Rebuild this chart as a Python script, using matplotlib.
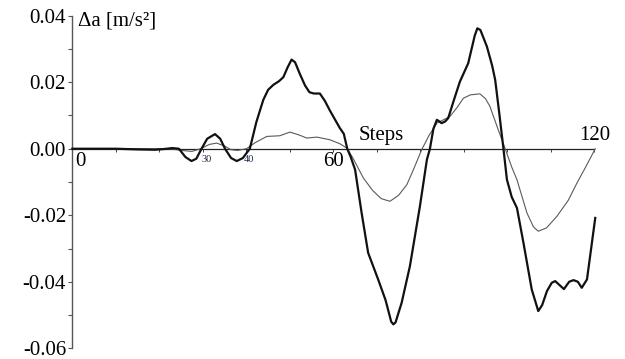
import matplotlib
matplotlib.use("Agg")
import matplotlib.pyplot as plt
from matplotlib.ticker import MultipleLocator, FuncFormatter

# Acceleration difference per step (thick trace)
steps_a = [0, 10, 15, 19, 21, 23, 24.5, 26, 27.4, 28.5, 29.7, 31, 32.8, 34, 35.1,
           36.5, 37.8, 39.2, 40.8, 42.3, 43.9, 45, 46.2, 47.5, 48.5, 49.5, 50.4,
           51.2, 52.3, 53.5, 54.5, 55.5, 56.9, 58, 59.2, 60.5, 61.5, 62.4, 63.2,
           64, 65, 66.5, 68, 70.3, 72, 73.3, 73.8, 74.3, 75.7, 77.6, 79.9, 81.5,
           82.2, 83, 83.8, 84.9, 85.7, 86.4, 87.8, 89.1, 91, 92.5, 93.1, 93.8,
           95.3, 96.5, 97.2, 98.2, 99.1, 99.9, 101, 102.2, 103.7, 105.6, 107.1,
           108, 109.1, 110.2, 111, 112, 113, 114.2, 115.2, 116.2, 117.1, 118.3,
           120.2]
delta_a = [0, 0, -0.0002, -0.0003, -0.0001, 0.0002, 0.0, -0.0025, -0.0037,
           -0.0030, 0.0, 0.0030, 0.0044, 0.0030, 0.0, -0.0028, -0.0037, -0.0028,
           0.0, 0.0080, 0.0147, 0.0177, 0.0192, 0.0203, 0.0215, 0.0245, 0.0268,
           0.0260, 0.0225, 0.0190, 0.0170, 0.0166, 0.0166, 0.0145, 0.0115,
           0.0085, 0.0062, 0.0045, 0.0, -0.0025, -0.0063, -0.0193, -0.0313,
           -0.0393, -0.0455, -0.0520, -0.0528, -0.0522, -0.0463, -0.0353,
           -0.0173, -0.0033, 0.0, 0.0060, 0.0087, 0.0077, 0.0082, 0.0092, 0.0150,
           0.0202, 0.0257, 0.0340, 0.0362, 0.0357, 0.0307, 0.0250, 0.0207,
           0.0100, 0.0, -0.0093, -0.0145, -0.0178, -0.0283, -0.0423, -0.0488,
           -0.0470, -0.0428, -0.0403, -0.0398, -0.0410, -0.0422, -0.0400,
           -0.0395, -0.0400, -0.0418, -0.0393, -0.0208]

# Smoothed trace (thin line)
steps_b = [0, 20, 23, 25, 27.5, 29.5, 31.5, 33.2, 35, 36.5, 38, 40, 42, 44.7,
           47.7, 50, 52, 53.9, 56.2, 59.2, 61.5, 63.1, 64.5, 66.9, 69, 71, 73,
           75, 76.9, 78.5, 80.3, 82, 83.8, 86.8, 88.5, 89.9, 91.5, 93.7, 95, 96,
           97.9, 99.5, 101, 102.2, 104.5, 106, 107.1, 109, 111.4, 114, 116, 118,
           120.2]
delta_b = [0, 0, -0.0001, -0.0005, -0.0008, 0.0, 0.0013, 0.0017, 0.0008,
           -0.0003, -0.0005, 0.0, 0.0018, 0.0037, 0.0039, 0.0050, 0.0042,
           0.0032, 0.0035, 0.0027, 0.0015, 0.0002, -0.0028, -0.0088, -0.0125,
           -0.0150, -0.0158, -0.0140, -0.0108, -0.0060, -0.0003, 0.0040, 0.0077,
           0.0097, 0.0125, 0.0152, 0.0162, 0.0165, 0.0150, 0.0127, 0.0057, 0.0,
           -0.0055, -0.0093, -0.0193, -0.0235, -0.0248, -0.0238, -0.0203,
           -0.0155, -0.0103, -0.0055, 0.0]

y_ticks = [-0.06, -0.04, -0.02, 0.00, 0.02, 0.04]

serif = "Liberation Serif"
fs = 15

fig = plt.figure(figsize=(6.25, 3.59), dpi=100)
ax = fig.add_axes([0.1157, 0.0298, 0.951 - 0.1157, 0.9265])
ax.set_xlim(0, 120)
ax.set_ylim(-0.06, 0.04)

ax.plot(steps_b, delta_b, color="#5a5a5a", lw=0.8, clip_on=False, zorder=3)
ax.plot(steps_a, delta_a, color="#111111", lw=1.6, clip_on=False, zorder=4)

for s in ["top", "right"]:
    ax.spines[s].set_visible(False)
ax.spines["bottom"].set_position(("data", 0))
ax.spines["bottom"].set_color("#222222")
ax.spines["bottom"].set_linewidth(0.9)
ax.spines["left"].set_color("#555555")
ax.spines["left"].set_linewidth(1.0)

ax.set_yticks(y_ticks)
ax.yaxis.set_minor_locator(MultipleLocator(0.01))
ax.yaxis.set_major_formatter(FuncFormatter(lambda v, p: f"{v:.2f}"))
ax.tick_params(axis="y", which="both", direction="out", length=3, width=0.8,
               color="#555555", pad=1.5, labelsize=fs)
for lab in ax.get_yticklabels():
    lab.set_fontfamily(serif)

ax.set_xticks(range(0, 121, 10))
ax.tick_params(axis="x", which="both", direction="out", length=2.5, width=0.7,
               color="#444444", labelbottom=False)

# Axis annotations
ax.text(1.3, 0.0383, "\u0394a [m/s\u00b2]", fontsize=fs, family=serif,
        va="center", ha="left")
ax.text(0.6, -0.0010, "0", fontsize=fs, family=serif, va="top", ha="left")
ax.text(60, -0.0010, "60", fontsize=fs, family=serif, va="top", ha="center")
ax.text(120, 0.0011, "120", fontsize=fs, family=serif, va="bottom", ha="center")
ax.text(65.9, 0.0027, "Steps", fontsize=fs, family=serif, va="baseline", ha="left")
ax.text(30.9, -0.0020, "30", fontsize=7.5, family=serif, va="top", ha="center",
        color="#1a2a4a")
ax.text(40.7, -0.0020, "40", fontsize=7.5, family=serif, va="top", ha="center",
        color="#1a2a4a")

fig.savefig("out.png", dpi=100)
